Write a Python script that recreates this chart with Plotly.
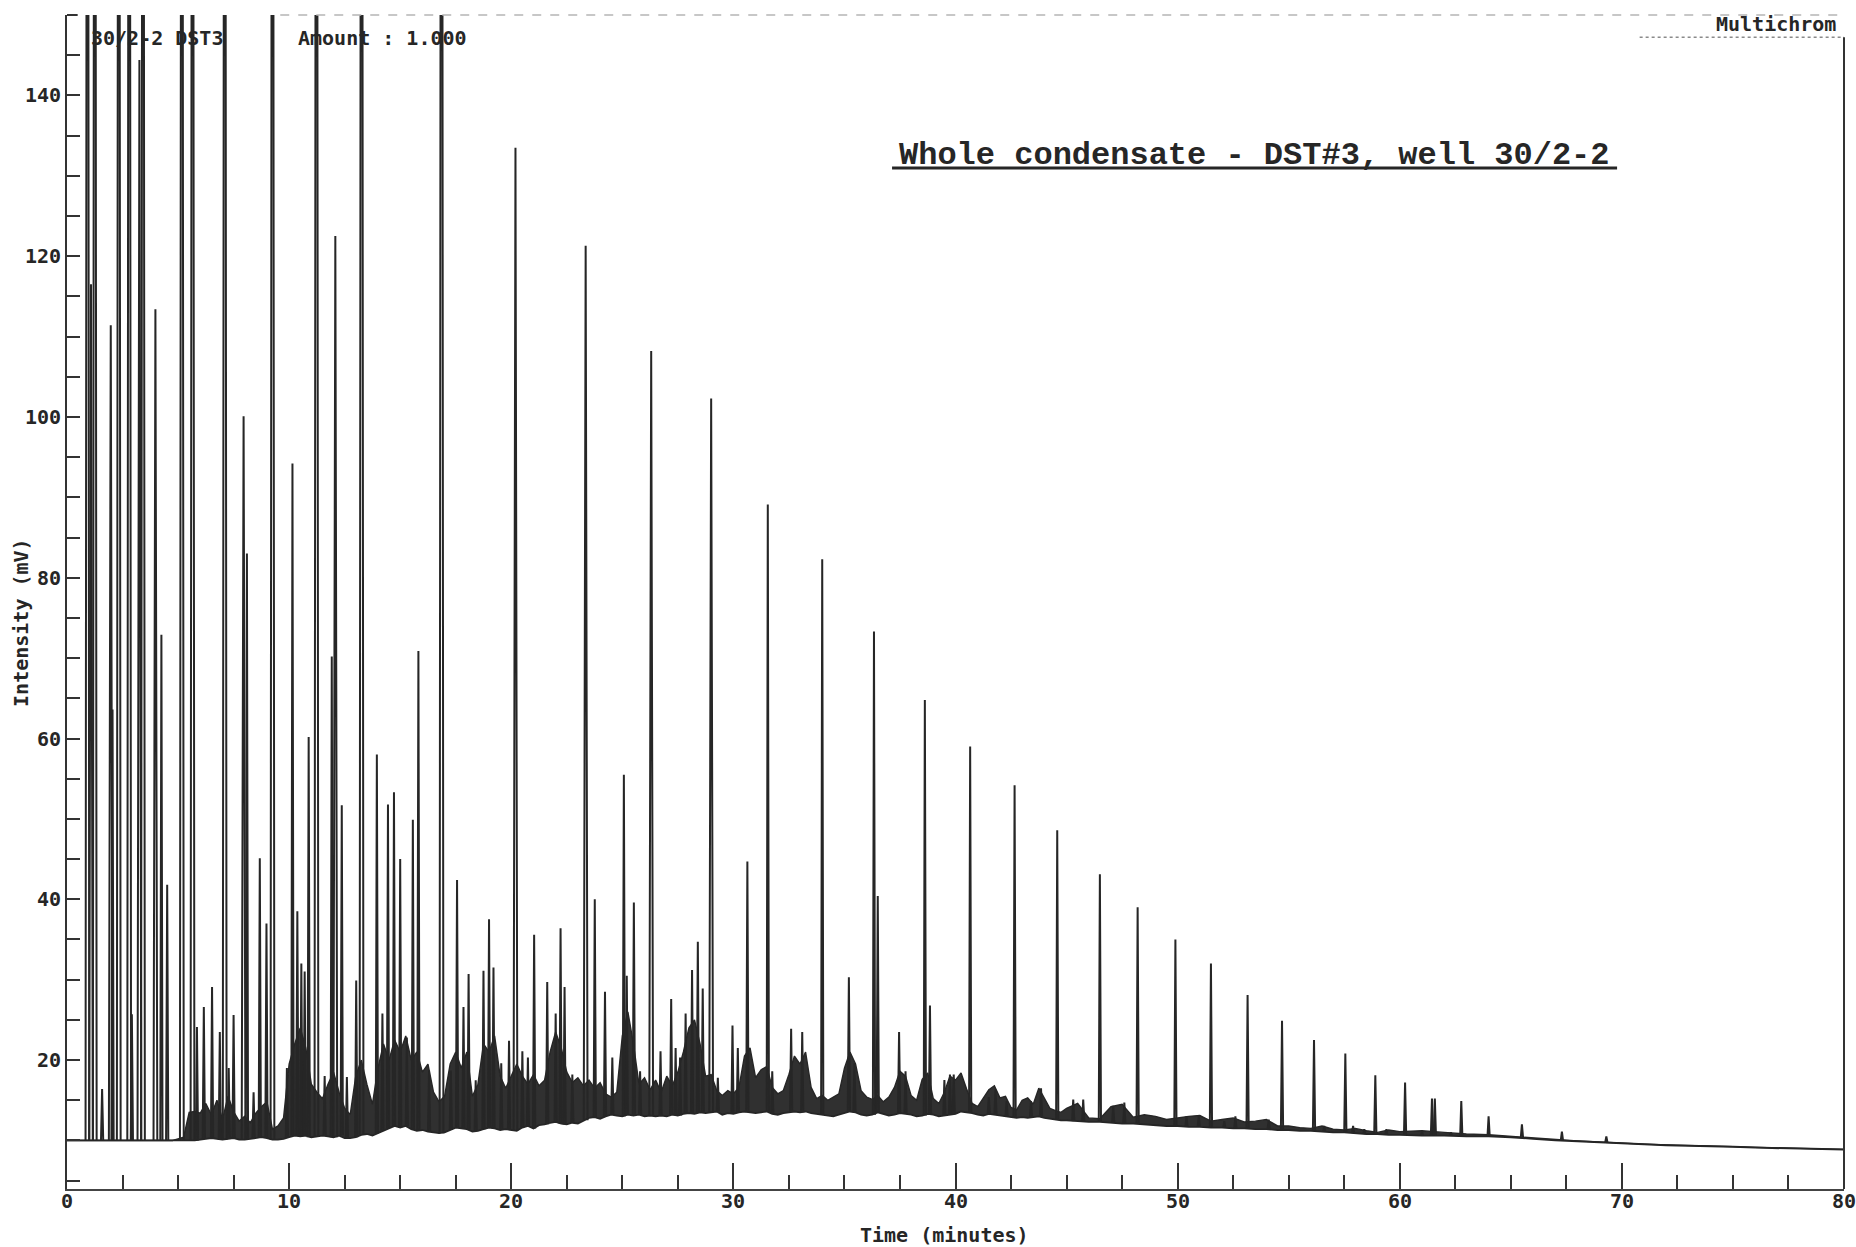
import numpy as np
import plotly.graph_objects as go

# ---------------------------------------------------------------------------
# Chromatogram of the whole condensate (DST#3, well 30/2-2)
# ---------------------------------------------------------------------------

# Trace envelope: retention time (min), lower edge and upper edge of the
# unresolved signal ("grass" + hump) in mV.
env_t = [
    0.0, 4.75,
    5.0, 5.25, 5.5, 5.75, 6.0, 6.25, 6.5, 6.75, 7.0, 7.25, 7.5, 7.75, 8.0, 8.25, 8.5, 8.75, 9.0, 9.25, 9.5, 9.75,
    10.0, 10.25, 10.5, 10.75, 11.0, 11.25, 11.5, 11.75, 12.0, 12.25, 12.5, 12.75, 13.0, 13.25, 13.5, 13.75, 14.0, 14.25, 14.5, 14.75,
    15.0, 15.25, 15.5, 15.75, 16.0, 16.25, 16.5, 16.75, 17.0, 17.25, 17.5, 17.75, 18.0, 18.25, 18.5, 18.75, 19.0, 19.25, 19.5, 19.75,
    20.0, 20.25, 20.5, 20.75, 21.0, 21.25, 21.5, 21.75, 22.0, 22.25, 22.5, 22.75, 23.0, 23.25, 23.5, 23.75, 24.0, 24.25, 24.5, 24.75,
    25.0, 25.25, 25.5, 25.75, 26.0, 26.25, 26.5, 26.75, 27.0, 27.25, 27.5, 27.75, 28.0, 28.25, 28.5, 28.75, 29.0, 29.25, 29.5, 29.75,
    30.0, 30.25, 30.5, 30.75, 31.0, 31.25, 31.5, 31.75, 32.0, 32.25, 32.5, 32.75, 33.0, 33.25, 33.5, 33.75, 34.0, 34.25, 34.5, 34.75,
    35.0, 35.25, 35.5, 35.75, 36.0, 36.25, 36.5, 36.75, 37.0, 37.25, 37.5, 37.75, 38.0, 38.25, 38.5, 38.75, 39.0, 39.25, 39.5, 39.75,
    40.0, 40.25, 40.5, 40.75, 41.0, 41.25, 41.5, 41.75, 42.0, 42.25, 42.5, 42.75, 43.0, 43.25, 43.5, 43.75, 44.0, 44.25, 44.5, 44.75,
    45.0, 45.5, 46.0, 46.5, 47.0, 47.5, 48.0, 48.5, 49.0, 49.5, 50.0, 50.5, 51.0, 51.5, 52.0, 52.5,
    53.0, 53.5, 54.0, 54.5, 55.0, 55.5, 56.0, 56.5, 57.0, 57.5, 58.0, 58.5, 59.0, 59.5, 60.0,
    61.0, 62.0, 63.0, 64.0, 65.0, 66.0, 67.0, 68.0, 69.0, 70.0,
    71.0, 72.0, 73.0, 74.0, 75.0, 76.0, 77.0, 78.0, 79.0, 80.0,
]
env_lo = [
    10.0, 10.0,
    10.0, 10.0, 10.0, 10.0, 10.1, 10.2, 10.3, 10.2, 10.1, 10.2, 10.3, 10.1, 10.1, 10.2, 10.3, 10.4, 10.3, 10.1, 10.1, 10.2,
    10.4, 10.6, 10.5, 10.6, 10.4, 10.5, 10.6, 10.5, 10.4, 10.6, 10.3, 10.3, 10.4, 10.7, 10.8, 10.6, 10.9, 11.2, 11.5, 11.8,
    11.6, 11.8, 11.4, 11.2, 11.3, 11.1, 11.0, 10.9, 11.0, 11.3, 11.6, 11.5, 11.4, 11.1, 11.2, 11.4, 11.6, 11.5, 11.3, 11.4,
    11.3, 11.2, 11.6, 11.8, 11.5, 11.9, 12.0, 12.2, 12.3, 12.1, 12.0, 12.2, 12.1, 12.5, 12.8, 12.9, 12.7, 13.0, 13.2, 13.1,
    13.0, 13.2, 13.1, 13.2, 13.0, 13.1, 13.0, 13.1, 13.0, 13.2, 13.1, 13.3, 13.4, 13.3, 13.5, 13.4, 13.5, 13.6, 13.2, 13.4,
    13.3, 13.5, 13.6, 13.5, 13.4, 13.5, 13.6, 13.3, 13.2, 13.4, 13.5, 13.6, 13.5, 13.6, 13.4, 13.3, 13.2, 13.1, 13.0, 13.2,
    13.4, 13.6, 13.5, 13.2, 13.1, 13.2, 13.5, 13.3, 13.1, 13.2, 13.4, 13.3, 13.2, 13.0, 13.1, 13.3, 13.2, 13.0, 13.1, 13.2,
    13.3, 13.6, 13.5, 13.4, 13.2, 13.1, 13.3, 13.2, 13.1, 13.0, 12.9, 12.8, 12.9, 12.8, 12.9, 13.0, 12.8, 12.7, 12.6, 12.5,
    12.5, 12.4, 12.3, 12.3, 12.2, 12.1, 12.1, 12.0, 11.9, 11.8, 11.8, 11.7, 11.7, 11.6, 11.6, 11.5,
    11.5, 11.4, 11.4, 11.3, 11.3, 11.2, 11.2, 11.1, 11.0, 11.0, 10.9, 10.8, 10.8, 10.7, 10.7,
    10.6, 10.6, 10.5, 10.5, 10.4, 10.2, 10.0, 9.9, 9.75, 9.6,
    9.5, 9.4, 9.35, 9.3, 9.2, 9.1, 9.05, 9.0, 8.9, 8.85,
]
env_hi = [
    10.0, 10.0,
    10.2, 10.4, 13.5, 13.6, 13.4, 14.6, 13.2, 15.0, 12.6, 15.5, 13.6, 12.4, 13.0, 12.2, 13.4, 14.2, 14.8, 11.4, 11.8, 12.8,
    19.5, 22.0, 24.0, 21.5, 17.0, 16.0, 15.2, 17.0, 18.5, 16.0, 14.0, 13.2, 18.0, 20.0, 17.0, 14.5, 19.0, 22.0, 20.0, 22.5,
    21.0, 23.0, 20.0, 21.0, 18.5, 19.5, 16.0, 14.8, 15.5, 19.5, 21.0, 19.0, 21.0, 15.5, 17.0, 22.0, 21.0, 23.0, 18.0, 16.5,
    18.0, 19.5, 18.0, 17.0, 18.2, 16.8, 17.5, 21.0, 23.5, 21.5, 18.5, 17.2, 17.8, 16.8, 17.5, 16.5, 17.2, 15.8, 15.4, 16.0,
    23.0, 26.0, 22.0, 17.0, 17.8, 16.3, 17.5, 16.0, 18.0, 16.8, 18.5, 21.0, 24.0, 25.0, 22.0, 18.0, 18.2, 16.2, 15.6, 16.2,
    15.8, 16.6, 20.5, 21.5, 17.8, 18.8, 19.2, 16.6, 15.8, 16.2, 18.2, 20.5, 19.5, 21.0, 16.6, 15.2, 15.6, 15.0, 15.4, 15.8,
    19.0, 21.0, 19.5, 16.2, 15.4, 15.1, 15.6, 14.8, 15.4, 16.6, 18.6, 18.0, 15.6, 15.0, 17.6, 18.4, 15.2, 14.6, 16.0, 18.0,
    17.5, 18.4, 16.4, 14.6, 14.2, 15.2, 16.3, 16.8, 15.3, 15.5, 14.1, 13.8, 15.0, 15.3, 14.5, 16.5, 15.2, 14.0, 13.7, 13.5,
    14.0, 14.6, 12.8, 12.7, 14.2, 14.5, 12.9, 13.2, 13.0, 12.6, 12.8, 13.0, 13.1, 12.4, 12.6, 12.8,
    12.3, 12.4, 12.6, 11.8, 11.8, 11.6, 11.5, 11.8, 11.4, 11.3, 11.5, 11.2, 11.0, 11.3, 11.1,
    11.2, 11.0, 10.8, 10.7, 10.5, 10.3, 10.1, 9.95, 9.8, 9.65,
    9.55, 9.45, 9.4, 9.35, 9.25, 9.15, 9.1, 9.05, 8.95, 8.9,
]

# Resolved peaks: retention time (min) and apex intensity (mV).
# Peaks marked 300.0 are above the 150 mV full-scale of the recorder.
peak_t = [
    0.92, 1.08, 1.25, 1.58, 1.97, 2.05, 2.33, 2.80, 2.92, 3.26, 3.42, 3.98, 4.25, 4.51,
    5.17, 5.65, 5.85, 6.16, 6.53, 6.88, 7.10, 7.28, 7.50, 7.95, 8.10, 8.40, 8.68, 8.98,
    9.25, 9.90, 10.15, 10.37, 10.55, 10.70, 10.88, 11.23, 11.60, 11.92, 12.08, 12.37, 12.60,
    13.02, 13.26, 13.95, 14.20, 14.45, 14.72, 15.00, 15.30, 15.57, 15.82, 16.30, 16.86,
    17.28, 17.56, 17.85, 18.08, 18.40, 18.75, 19.00, 19.20, 19.55, 19.90,
    20.19, 20.50, 20.75, 21.03, 21.62, 22.00, 22.22, 22.40, 22.75, 23.35, 23.76, 24.22, 24.55,
    25.07, 25.20, 25.52, 25.80, 26.30, 26.72, 27.20, 27.40, 27.60, 27.85, 28.14, 28.40, 28.62,
    29.00, 29.30, 29.96, 30.20, 30.63, 31.55, 31.75, 32.60, 33.10, 34.00, 35.20, 35.45,
    36.33, 36.50, 37.46, 37.75, 38.62, 38.85, 39.50, 39.75, 39.92,
    40.66, 41.50, 41.80, 42.30, 42.66, 43.40, 43.85, 44.58, 45.30, 45.75, 46.50, 47.10, 47.60,
    48.20, 49.90, 50.40, 50.95, 51.50, 52.10, 52.60, 53.15, 54.10, 54.70, 56.14, 56.60,
    57.55, 57.90, 58.40, 58.90, 59.40, 60.24, 61.00, 61.45, 61.58, 62.30, 62.77, 64.00,
    65.50, 67.30, 69.30,
]
peak_h = [
    300.0, 116.5, 300.0, 16.4, 111.4, 63.6, 300.0, 300.0, 25.7, 144.4, 300.0, 113.4, 72.9, 41.8,
    300.0, 300.0, 24.1, 26.6, 29.1, 23.5, 300.0, 19.0, 25.6, 100.1, 83.0, 16.0, 45.1, 37.0,
    300.0, 19.0, 94.2, 38.5, 32.0, 31.0, 60.2, 300.0, 18.0, 70.2, 122.5, 51.7, 17.9,
    29.9, 300.0, 58.0, 25.8, 51.8, 53.3, 45.0, 22.8, 49.9, 70.9, 18.7, 300.0,
    18.7, 42.4, 26.6, 30.7, 17.5, 31.1, 37.5, 31.5, 19.6, 22.4,
    133.5, 21.1, 20.3, 35.6, 29.7, 25.8, 36.4, 29.1, 18.2, 121.3, 40.0, 28.5, 20.3,
    55.5, 30.5, 39.6, 18.6, 108.2, 21.1, 27.6, 21.5, 20.3, 25.8, 31.2, 34.7, 28.9,
    102.3, 17.8, 24.3, 21.5, 44.7, 89.1, 18.6, 23.9, 23.5, 82.3, 30.3, 19.6,
    73.3, 40.4, 23.5, 18.6, 64.8, 26.8, 17.5, 18.2, 18.2,
    59.0, 15.4, 16.3, 14.9, 54.2, 14.9, 16.5, 48.6, 15.1, 15.1, 43.1, 14.3, 14.7,
    39.0, 35.0, 13.0, 13.0, 32.0, 12.4, 13.0, 28.1, 12.6, 24.9, 22.5, 11.8,
    20.8, 11.8, 11.4, 18.1, 11.4, 17.2, 11.2, 15.2, 15.2, 11.0, 14.9, 13.0,
    12.0, 11.1, 10.5,
]

# Axis ticks
x_major = [0, 10, 20, 30, 40, 50, 60, 70, 80]
y_major = [20, 40, 60, 80, 100, 120, 140]

INK = "#262626"
MONO = "DejaVu Sans Mono"

fig = go.Figure()

# Unresolved envelope drawn as a filled band between its lower and upper edges
fig.add_trace(go.Scatter(
    x=env_t, y=env_lo, mode="lines",
    line=dict(color=INK, width=1.8), hoverinfo="skip",
))
fig.add_trace(go.Scatter(
    x=env_t, y=env_hi, mode="lines",
    line=dict(color=INK, width=1.4), fill="tonexty", fillcolor="#303030",
    hoverinfo="skip",
))

# Peaks rise from the lower edge of the envelope at their retention time
t_arr = np.asarray(env_t)
lo_arr = np.asarray(env_lo)
px, py = [], []
for t, h in zip(peak_t, peak_h):
    foot = float(lo_arr[np.argmin(np.abs(t_arr - t))])
    half = 0.085 if h > 100 else 0.05
    px += [t - half, t, t + half, None]
    py += [foot, h, foot, None]

fig.add_trace(go.Scatter(
    x=px, y=py, mode="lines",
    line=dict(color=INK, width=2.0), hoverinfo="skip",
))

fig.update_layout(
    width=1856, height=1247,
    margin=dict(l=67, r=12, t=15, b=58),
    paper_bgcolor="white", plot_bgcolor="white",
    showlegend=False,
    xaxis=dict(
        range=[0, 80], tickmode="array", tickvals=x_major, showticklabels=False,
        ticks="inside", ticklen=26, tickwidth=1.6, tickcolor="#333",
        minor=dict(dtick=2.5, tick0=0, ticks="inside", ticklen=14,
                   tickwidth=1.6, tickcolor="#333"),
        showline=True, linecolor="#444", linewidth=1.5,
        showgrid=False, zeroline=False,
    ),
    yaxis=dict(
        range=[3.96, 150.0], tickmode="array", tickvals=y_major,
        ticks="inside", ticklen=13, tickwidth=1.5, tickcolor="#333",
        minor=dict(dtick=5, tick0=0, ticks="inside", ticklen=13,
                   tickwidth=1.5, tickcolor="#333"),
        showline=True, linecolor="#333", linewidth=2,
        showgrid=False, zeroline=False,
        tickfont=dict(family=MONO, size=20, color=INK, weight="bold"),
    ),
)

# Time tick labels, set just under the baseline rule
for v in x_major:
    fig.add_annotation(text=str(v), xref="x", yref="paper", x=v, y=-0.0102,
                       xanchor="center", yanchor="middle", showarrow=False,
                       font=dict(family=MONO, size=20, color=INK, weight="bold"))

# Frame: faint top rule, right border and top cap of the intensity axis
fig.add_shape(type="line", xref="paper", yref="paper", x0=0.12, x1=1.0, y0=1.0, y1=1.0,
              line=dict(color="#b5b5b5", width=1.5, dash="dash"))
fig.add_shape(type="line", xref="paper", yref="paper", x0=0.885, x1=1.0, y0=0.981, y1=0.981,
              line=dict(color="#8a8a8a", width=1.5, dash="dot"))
fig.add_shape(type="line", xref="paper", yref="paper", x0=1.0, x1=1.0, y0=0.981, y1=0.0,
              line=dict(color="#333", width=2))
fig.add_shape(type="line", xref="paper", yref="paper", x0=0.0, x1=0.006, y0=1.0, y1=1.0,
              line=dict(color="#333", width=2))

# Headers and labels
fig.add_annotation(text="<b>30/2-2 DST3</b>", xref="paper", yref="paper", x=0.0124, y=0.9805,
                   xanchor="left", yanchor="middle", showarrow=False,
                   font=dict(family=MONO, size=20, color=INK))
fig.add_annotation(text="<b>Amount : 1.000</b>", xref="paper", yref="paper", x=0.1289, y=0.9805,
                   xanchor="left", yanchor="middle", showarrow=False,
                   font=dict(family=MONO, size=20, color=INK))
fig.add_annotation(text="<b>Multichrom</b>", xref="paper", yref="paper", x=0.9966, y=0.9923,
                   xanchor="right", yanchor="middle", showarrow=False,
                   font=dict(family=MONO, size=20, color=INK))
fig.add_annotation(text="<b>Whole condensate - DST#3, well 30/2-2</b>", xref="paper", yref="paper",
                   x=0.668, y=0.8806, xanchor="center", yanchor="middle", showarrow=False,
                   font=dict(family="Liberation Mono", size=32, color=INK))
fig.add_shape(type="line", xref="paper", yref="paper", x0=0.4643, x1=0.8723, y0=0.8696, y1=0.8696,
              line=dict(color=INK, width=3))
fig.add_annotation(text="<b>Intensity (mV)</b>", xref="paper", yref="paper", x=-0.0259, y=0.483,
                   xanchor="center", yanchor="middle", textangle=-90, showarrow=False,
                   font=dict(family=MONO, size=20, color=INK))
fig.add_annotation(text="<b>Time (minutes)</b>", xref="paper", yref="paper", x=0.494, y=-0.0392,
                   xanchor="center", yanchor="middle", showarrow=False,
                   font=dict(family=MONO, size=20, color=INK))

fig.write_html("out.html")
